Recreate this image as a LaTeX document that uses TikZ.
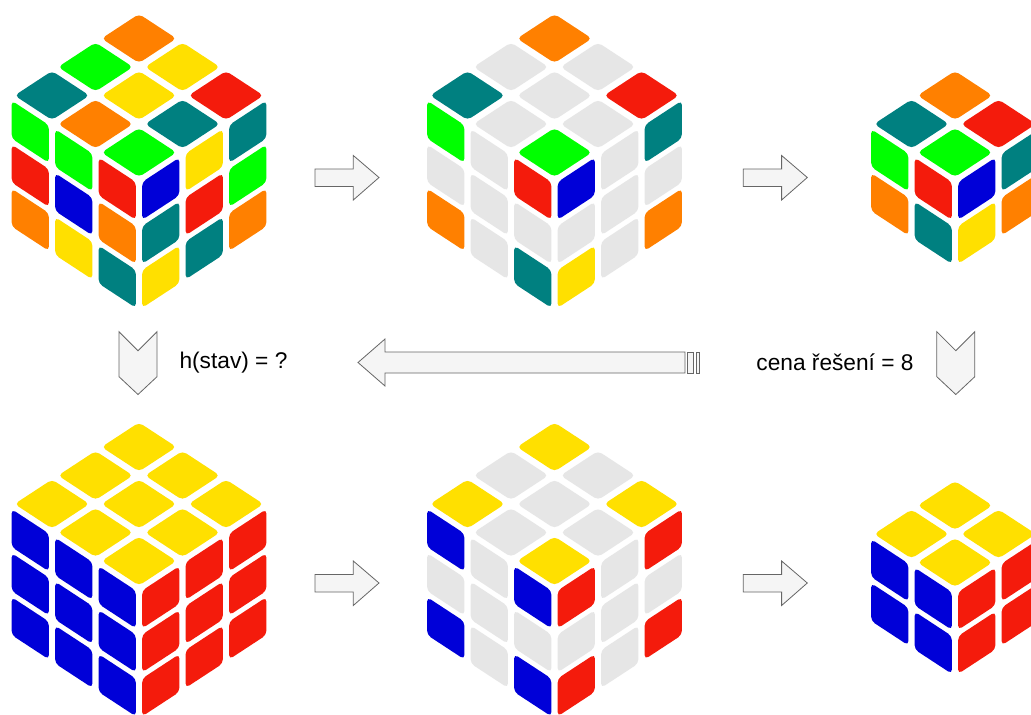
\documentclass[tikz,border=0pt]{standalone}
\usepackage{fontspec}
\setmainfont{Liberation Sans}
\usetikzlibrary{calc}

\definecolor{cOr}{HTML}{FF8000}
\definecolor{cGr}{HTML}{00FF00}
\definecolor{cYe}{HTML}{FFE000}
\definecolor{cRe}{HTML}{F41B0C}
\definecolor{cBl}{HTML}{0000D8}
\definecolor{cTe}{HTML}{008080}
\definecolor{cGy}{HTML}{E6E6E6}
\definecolor{arrowfill}{HTML}{F5F5F5}
\definecolor{arrowline}{HTML}{666666}

% cell geometry of the cubes (in px)
\def\cellrun{43.5}
\def\cellrise{28.5}
\def\cellhigh{44}
\def\gapfrac{0.07}
\def\stickerround{4.5pt}

% one face: corners #1 (origin), #2 (along s), #3 (along t), #4 (opposite);
% #5 = cells per edge, #6 = colours row by row
\newcommand{\stickerface}[6]{%
  \foreach \stkcol [count=\stkk from 0] in {#6} {
    \pgfmathtruncatemacro{\cI}{mod(\stkk,#5)}
    \pgfmathtruncatemacro{\cJ}{floor(\stkk/#5)}
    \pgfmathsetmacro{\psa}{(\cI+\gapfrac)/#5}
    \pgfmathsetmacro{\psb}{(\cI+1-\gapfrac)/#5}
    \pgfmathsetmacro{\pta}{(\cJ+\gapfrac)/#5}
    \pgfmathsetmacro{\ptb}{(\cJ+1-\gapfrac)/#5}
    \coordinate (ea) at ($(#1)!\psa!(#2)$);
    \coordinate (eb) at ($(#1)!\psb!(#2)$);
    \coordinate (fa) at ($(#3)!\psa!(#4)$);
    \coordinate (fb) at ($(#3)!\psb!(#4)$);
    \fill[fill=\stkcol, rounded corners=\stickerround]
      ($(ea)!\pta!(fa)$) -- ($(eb)!\pta!(fb)$) -- ($(eb)!\ptb!(fb)$) -- ($(ea)!\ptb!(fa)$) -- cycle;
  }
}

% a cube: #1 name, #2/#3 front top corner, #4 size, #5 top, #6 left, #7 right
\newcommand{\rubik}[7]{%
  \coordinate (#1F)  at (#2,#3);
  \coordinate (#1T)  at ($(#1F)+(0,{-2*#4*\cellrise})$);
  \coordinate (#1L)  at ($(#1F)+({-#4*\cellrun},{-#4*\cellrise})$);
  \coordinate (#1R)  at ($(#1F)+({#4*\cellrun},{-#4*\cellrise})$);
  \coordinate (#1B)  at ($(#1F)+(0,{#4*\cellhigh})$);
  \coordinate (#1BL) at ($(#1L)+(0,{#4*\cellhigh})$);
  \coordinate (#1BR) at ($(#1R)+(0,{#4*\cellhigh})$);
  \stickerface{#1T}{#1R}{#1L}{#1F}{#4}{#5}
  \stickerface{#1L}{#1F}{#1BL}{#1B}{#4}{#6}
  \stickerface{#1F}{#1R}{#1B}{#1BR}{#4}{#7}
}

\tikzset{
  blockarrow/.style={fill=arrowfill, draw=arrowline, line width=0.8pt, line join=miter},
  caption/.style={font=\fontsize{22.7}{27}\selectfont, inner sep=0pt},
}

\begin{document}
\begin{tikzpicture}[x=1pt, y=-1pt]
\clip (0,0) rectangle (1031,715);
\fill[white] (0,0) rectangle (1031,715);

% scrambled cube
\rubik{ca}{139}{181}{3}
  {cOr,cYe,cRe, cGr,cYe,cTe, cTe,cOr,cGr}
  {cGr,cGr,cRe, cRe,cBl,cOr, cOr,cYe,cTe}
  {cBl,cYe,cTe, cTe,cRe,cGr, cYe,cTe,cOr}
% its corners only
\rubik{cb}{554.5}{181}{3}
  {cOr,cGy,cRe, cGy,cGy,cGy, cTe,cGy,cGr}
  {cGr,cGy,cRe, cGy,cGy,cGy, cOr,cGy,cTe}
  {cBl,cGy,cTe, cGy,cGy,cGy, cYe,cGy,cOr}
% the same corners as a 2x2 cube
\rubik{cc}{955}{181}{2}
  {cOr,cRe, cTe,cGr}
  {cGr,cRe, cOr,cTe}
  {cBl,cTe, cYe,cOr}
% solved cube
\rubik{cd}{139}{589.5}{3}
  {cYe,cYe,cYe, cYe,cYe,cYe, cYe,cYe,cYe}
  {cBl,cBl,cBl, cBl,cBl,cBl, cBl,cBl,cBl}
  {cRe,cRe,cRe, cRe,cRe,cRe, cRe,cRe,cRe}
% solved corners
\rubik{ce}{554.5}{589.5}{3}
  {cYe,cGy,cYe, cGy,cGy,cGy, cYe,cGy,cYe}
  {cBl,cGy,cBl, cGy,cGy,cGy, cBl,cGy,cBl}
  {cRe,cGy,cRe, cGy,cGy,cGy, cRe,cGy,cRe}
% solved 2x2 cube
\rubik{cf}{955}{591}{2}
  {cYe,cYe, cYe,cYe}
  {cBl,cBl, cBl,cBl}
  {cRe,cRe, cRe,cRe}

% right arrows between the cubes
\foreach \ax/\ay in {315/177.5, 743.3/177.5, 315/583, 743.3/583} {
  \draw[blockarrow] (\ax,\ay-8.5) -- ++(38.3,0) -- ++(0,-13.5) -- ++(25.7,22)
    -- ++(-25.7,22.5) -- ++(0,-13.5) -- ++(-38.3,0) -- cycle;
}

% downward chevrons
\foreach \cx in {138, 955.8} {
  \draw[blockarrow] (\cx-19,331.7) -- (\cx,350.7) -- (\cx+19,331.7) -- (\cx+19,376.7)
    -- (\cx,394.5) -- (\cx-19,376.7) -- cycle;
}

% long striped arrow pointing back
\draw[blockarrow] (685,352) -- (385,352) -- (385,339) -- (358,362.5) -- (385,386)
  -- (385,373) -- (685,373) -- cycle;
\draw[blockarrow] (687.5,352) rectangle (693.5,373);
\draw[blockarrow] (696,352) rectangle (699,373);

\node[caption] (hq) at (233.5,363) {h(stav) = ?};
\node[caption] (cost) at (835,362) {cena řešení = 8};
\end{tikzpicture}
\end{document}
